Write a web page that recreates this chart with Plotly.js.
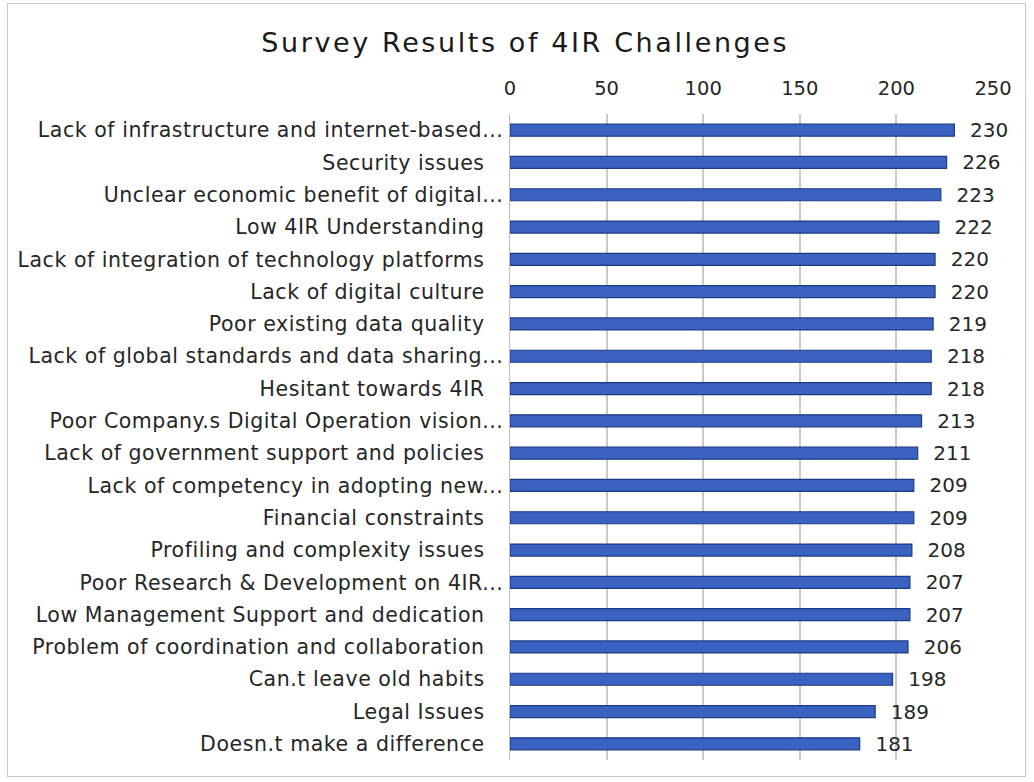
<!DOCTYPE html>
<html><head><meta charset="utf-8">
<script src="https://cdn.plot.ly/plotly-3.0.1.min.js"></script>
<style>
html,body{margin:0;padding:0;background:#fff;}
#frame{position:absolute;left:7px;top:3px;width:1019px;height:774px;border:1.5px solid #c9c9c9;box-sizing:border-box;}
#chart{position:absolute;left:0;top:0;width:1034px;height:782px;}
#chart .gtitle{letter-spacing:2.6px;}
#chart .ytick text{letter-spacing:0.55px;}
</style></head>
<body>
<div id="frame"></div>
<div id="chart"></div>
<script>
const categories = [
  "Lack of infrastructure and internet-based...",
  "Security issues",
  "Unclear economic benefit of digital...",
  "Low 4IR Understanding",
  "Lack of integration of technology platforms",
  "Lack of digital culture",
  "Poor existing data quality",
  "Lack of global standards and data sharing...",
  "Hesitant towards 4IR",
  "Poor Company.s Digital Operation vision...",
  "Lack of government support and policies",
  "Lack of competency in adopting new...",
  "Financial constraints",
  "Profiling and complexity issues",
  "Poor Research & Development on 4IR...",
  "Low Management Support and dedication",
  "Problem of coordination and collaboration",
  "Can.t leave old habits",
  "Legal Issues",
  "Doesn.t make a difference"
];
const values = [230,226,223,222,220,220,219,218,218,213,211,209,209,208,207,207,206,198,189,181];
const xTicks = [0,50,100,150,200,250];

const ticktext = categories.map(c => c.endsWith("...") ? c : c + "\u00a0\u00a0\u2009");
const font = "DejaVu Sans, sans-serif";

const trace = {
  type: "bar",
  orientation: "h",
  y: categories,
  x: values,
  width: 0.37,
  marker: {color: "#3a62c0", line: {color: "#1d3a86", width: 1.2}},
  text: values.map(v => "\u00a0\u00a0" + v),
  textposition: "outside",
  constraintext: "none",
  cliponaxis: false,
  textfont: {family: font, size: 20, color: "#262626"},
  hoverinfo: "none"
};

const layout = {
  width: 1034, height: 782,
  paper_bgcolor: "rgba(0,0,0,0)", plot_bgcolor: "rgba(0,0,0,0)",
  margin: {l: 510, r: 41, t: 114, b: 22},
  title: {text: "Survey Results of 4IR Challenges", font: {family: font, size: 27, color: "#1a1a1a"}, x: 0.508, xanchor: "center", y: 0.946, yanchor: "middle"},
  showlegend: false,
  xaxis: {
    side: "top", range: [0, 250], tickvals: xTicks, ticktext: xTicks.map(String),
    showgrid: true, gridcolor: "#cacaca", gridwidth: 2,
    zeroline: false, showline: false, ticks: "",
    ticklabelstandoff: 14,
    tickfont: {family: font, size: 19.5, color: "#262626"}
  },
  yaxis: {
    type: "category", autorange: "reversed",
    tickvals: categories, ticktext: ticktext,
    showline: true, linecolor: "#bfbfbf", linewidth: 1.5,
    showgrid: false, ticks: "",
    ticklabelstandoff: 1,
    tickfont: {family: font, size: 20.5, color: "#262626"}
  }
};

Plotly.newPlot("chart", [trace], layout, {staticPlot: true});
</script>
</body></html>
